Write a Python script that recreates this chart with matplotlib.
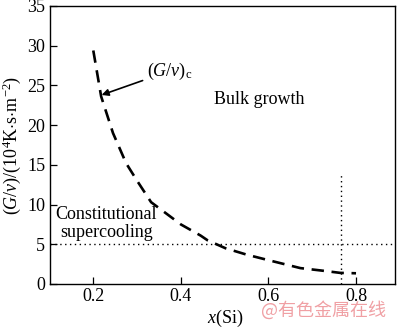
import matplotlib
matplotlib.use("Agg")
import matplotlib.pyplot as plt

# Data
x_si = [0.200, 0.218, 0.245, 0.275, 0.300, 0.332, 0.366, 0.400, 0.445, 0.461, 0.502, 0.550, 0.600, 0.673, 0.720, 0.764, 0.800]
gv_c = [29.4, 23.6, 19.0, 15.2, 13.0, 10.3, 8.9, 7.5, 6.1, 5.5, 4.5, 3.7, 3.0, 2.0, 1.7, 1.4, 1.35]
threshold_y = 5
x_vertical = 0.765
vertical_top = 14
x_ticks = [0.2, 0.4, 0.6, 0.8]
y_ticks = [0, 5, 10, 15, 20, 25, 30, 35]

plt.rcParams['font.family'] = ['Liberation Serif', 'DejaVu Serif']
plt.rcParams['mathtext.fontset'] = 'custom'
plt.rcParams['mathtext.rm'] = 'Liberation Serif'
plt.rcParams['mathtext.it'] = 'Liberation Serif:italic'

fig = plt.figure(figsize=(4, 3.27), dpi=100)
ax = fig.add_axes([49.5/400, 1-284/327, (395-49.5)/400, (284-6)/327])

ax.plot(x_si, gv_c, color='black', lw=1.9, dashes=(4.7, 2.9))
ax.axhline(threshold_y, color='black', lw=1.0, ls=(0, (1, 2.5)))
ax.plot([x_vertical, x_vertical], [0, vertical_top], color='black', lw=1.0, ls=(0, (1, 2.5)))

ax.set_xlim(0.1, 0.889)
ax.set_ylim(0, 35)
ax.set_xticks(x_ticks)
ax.set_xticklabels([f"{t:.1f}" for t in x_ticks])
ax.set_yticks(y_ticks)
ax.tick_params(direction='in', length=5, width=0.9, labelsize=13, pad=3)
for s in ax.spines.values():
    s.set_linewidth(1.0)

ax.set_ylabel(r'$(G/v)\mathrm{/(10^4K{\cdot}s{\cdot}m^{-2})}$', fontsize=13, labelpad=3)
ax.set_xlabel(r'$x\mathrm{(Si)}$', fontsize=13)
ax.xaxis.set_label_coords(0.508, -0.085)

ax.annotate(r'$(G/v)_\mathrm{c}$', xy=(0.219, 23.8), xytext=(0.322, 26.8),
            fontsize=13, va='center', ha='left',
            arrowprops=dict(arrowstyle='-|>', color='black', lw=1.2,
                            shrinkA=1, shrinkB=0, mutation_scale=10))
ax.text(0.476, 23.2, 'Bulk growth', fontsize=13, va='center', ha='left')
ax.text(0.23, 7.6, 'Constitutional\nsupercooling', fontsize=13, va='center',
        ha='center', linespacing=1.12)

fig.text(0.81, 0.052, '@有色金属在线', fontsize=13, color='#f0a0a4',
         ha='center', va='center', family=['Noto Sans CJK SC', 'DejaVu Sans'])

fig.savefig('out.png', dpi=100)
